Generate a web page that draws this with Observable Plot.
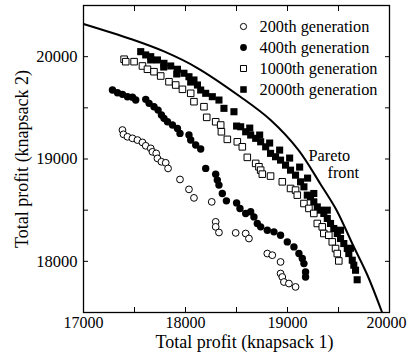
<!DOCTYPE html>
<html><head><meta charset="utf-8">
<script src="https://cdn.jsdelivr.net/npm/d3@7"></script>
<script src="https://cdn.jsdelivr.net/npm/@observablehq/plot@0.6"></script>
<style>body{margin:0;background:#fff}</style>
</head><body><div id="chart"></div>
<script>
// ---- data ----
const xTicks = [17000, 17500, 18000, 18500, 19000, 19500, 20000];
const yTicks = [17500, 18000, 18500, 19000, 19500, 20000, 20500];
const xTickLabels = [17000, 18000, 19000];
const xTickLabelLast = [20000];
const yTickLabels = [18000, 19000, 20000];
const seriesNames = ["200th generation", "400th generation", "1000th generation", "2000th generation"];

const gen200X = [17382,17392,17431,17480,17529,17578,17610,17659,17676,17713,17725,17764,17806,17829,17946,18034,18083,18257,18296,18296,18328,18492,18590,18622,18802,18851,18932,18932,18949,18965,19014,19079];
const gen200Y = [19283,19241,19217,19202,19185,19162,19129,19104,19070,19055,19006,18973,18963,18908,18800,18703,18620,18581,18386,18337,18282,18278,18272,18223,18076,18060,17994,17881,17847,17798,17783,17750];

const gen400X = [17284,17333,17382,17431,17480,17512,17610,17643,17691,17731,17764,17789,17823,17872,17921,17946,18034,18051,18100,18149,18198,18296,18312,18328,18361,18401,18501,18534,18590,18639,18671,18704,18737,18802,18867,18932,18998,19063,19112,19145,19161,19177,19177];
const gen400Y = [19674,19648,19632,19609,19603,19576,19583,19544,19511,19478,19430,19397,19364,19332,19299,19250,19234,19186,19137,19097,18908,18852,18794,18745,18663,18591,18571,18517,18468,18484,18434,18370,18337,18304,18288,18255,18190,18141,18076,18027,17978,17896,17847];

const gen1000X = [17398,17414,17496,17578,17627,17691,17757,17838,17904,17970,18051,18083,18181,18208,18296,18345,18352,18410,18508,18557,18606,18688,18720,18737,18753,18834,18949,19030,19079,19096,19161,19210,19258,19292,19341,19356,19405,19439,19471,19488,19503];
const gen1000Y = [19975,19951,19951,19909,19877,19853,19811,19755,19723,19681,19642,19560,19511,19407,19364,19332,19266,19192,19168,19119,19016,18957,18924,18891,18852,18833,18777,18712,18696,18647,18565,18517,18468,18370,18337,18272,18255,18190,18125,18076,18004];

const gen2000X = [17561,17610,17659,17659,17725,17786,17789,17855,17914,17921,17985,18034,18051,18083,18117,18149,18198,18263,18328,18377,18475,18501,18541,18590,18630,18639,18688,18727,18737,18786,18825,18834,18883,18923,18932,18981,19021,19030,19079,19119,19128,19161,19194,19197,19226,19258,19258,19292,19324,19356,19390,19390,19422,19454,19488,19520,19520,19552,19586,19601,19618,19635,19650,19667,19683];
const gen2000Y = [20049,20017,20000,19968,19968,19899,19935,19909,19831,19877,19838,19804,19752,19772,19723,19674,19642,19609,19576,19495,19462,19322,19315,19266,19302,19234,19202,19234,19168,19119,19156,19055,19022,19087,18989,18940,19009,18891,18842,18921,18777,18728,18647,18813,18630,18581,18663,18532,18500,18468,18419,18500,18370,18321,18272,18223,18304,18174,18125,18076,18128,18011,17962,17913,17820];

const paretoX = [17000,17463,17789,18117,18541,18834,19108,19324,19481,19638,19784,19926];
const paretoY = [20320,20173,20051,19889,19606,19381,19087,18754,18500,18167,17864,17505];

const paretoLabel = ["Pareto", "front"];
const xLabel = "Total profit (knapsack 1)";
const yLabel = "Total profit (knapsack 2)";

// ---- build ----
const rows = (xs, ys) => xs.map((x, i) => ({x, y: ys[i]}));
const font = "'Liberation Serif', 'Times New Roman', serif";
const styles = [
  {symbol: "circle", r: 3.4, fill: "white", stroke: "black"},
  {symbol: "circle", r: 3.7, fill: "black", stroke: "none"},
  {symbol: "square", r: 3.7, fill: "white", stroke: "black"},
  {symbol: "square", r: 4.0, fill: "black", stroke: "none"}
];
const data = [rows(gen200X, gen200Y), rows(gen400X, gen400Y), rows(gen1000X, gen1000Y), rows(gen2000X, gen2000Y)];

const legendMarks = seriesNames.flatMap((name, i) => [
  Plot.dot([name], {frameAnchor: "top-left", dx: 160, dy: 21 + 21 * i, strokeWidth: 1, ...styles[i], r: styles[i].r - 0.3}),
  Plot.text([name], {frameAnchor: "top-left", dx: 176, dy: 21 + 21 * i, text: d => d, textAnchor: "start", lineAnchor: "middle", fontSize: 16.3, fill: "black"})
]);

const order = [3, 2, 1, 0];
const fmt = d => String(d);
const chart = Plot.plot({
  width: 407, height: 360,
  marginLeft: 83, marginRight: 18, marginTop: 5, marginBottom: 48,
  style: {fontFamily: font, fontSize: "16px", background: "white", color: "black"},
  x: {domain: [17000, 20000]},
  y: {domain: [17500, 20500]},
  marks: [
    Plot.line(rows(paretoX, paretoY), {x: "x", y: "y", curve: "catmull-rom", stroke: "black", strokeWidth: 2, clip: true}),
    ...order.map(i => Plot.dot(data[i], {x: "x", y: "y", strokeWidth: 1, ...styles[i]})),
    Plot.text([paretoLabel[0]], {frameAnchor: "top-left", dx: 225, dy: 150, text: d => d, textAnchor: "start", lineAnchor: "middle", fontSize: 16.3}),
    Plot.text([paretoLabel[1]], {frameAnchor: "top-left", dx: 244, dy: 167, text: d => d, textAnchor: "start", lineAnchor: "middle", fontSize: 16.3}),
    // ticks (inward) on all four sides
    Plot.axisX({ticks: xTicks, tickSize: -5, tickFormat: () => "", label: null}),
    Plot.axisX({anchor: "top", ticks: xTicks, tickSize: -5, tickFormat: () => "", label: null}),
    Plot.axisY({ticks: yTicks, tickSize: -5, tickFormat: () => "", label: null}),
    Plot.axisY({anchor: "right", ticks: yTicks, tickSize: -5, tickFormat: () => "", label: null}),
    // tick labels
    Plot.axisX({ticks: xTickLabels, tickSize: 0, tickPadding: 4, tickFormat: fmt, label: null, fontSize: 16}),
    Plot.axisX({ticks: xTickLabelLast, tickSize: 0, tickPadding: 4, tickFormat: fmt, label: null, fontSize: 16, dx: -3}),
    Plot.axisY({ticks: yTickLabels, tickSize: 0, tickPadding: 6, tickFormat: fmt, label: null, fontSize: 16.5}),
    Plot.frame({stroke: "black", strokeWidth: 1.3}),
    Plot.text([xLabel], {frameAnchor: "bottom", dx: 8, dy: 30, text: d => d, textAnchor: "middle", lineAnchor: "middle", fontSize: 18}),
    Plot.text([yLabel], {frameAnchor: "left", dx: -61, dy: 0, rotate: -90, text: d => d, textAnchor: "middle", lineAnchor: "middle", fontSize: 18}),
    ...legendMarks
  ]
});
document.getElementById("chart").appendChild(chart);
</script>
</body></html>
